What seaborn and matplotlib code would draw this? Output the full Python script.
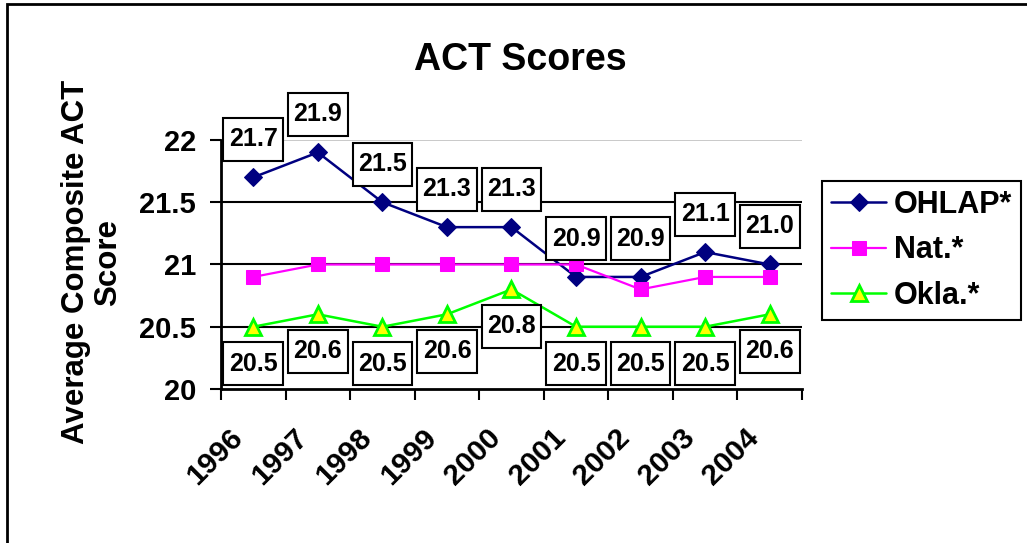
import numpy as np
import pandas as pd
import matplotlib
matplotlib.use("Agg")
import matplotlib.pyplot as plt
import matplotlib.patches as patches
import matplotlib.transforms as mtrans
from matplotlib.path import Path
import seaborn as sns

# chart data
years = ["1996", "1997", "1998", "1999", "2000", "2001", "2002", "2003", "2004"]
ohlap = [21.7, 21.9, 21.5, 21.3, 21.3, 20.9, 20.9, 21.1, 21.0]
nat = [20.9, 21.0, 21.0, 21.0, 21.0, 21.0, 20.8, 20.9, 20.9]
okla = [20.5, 20.6, 20.5, 20.6, 20.8, 20.5, 20.5, 20.5, 20.6]
y_ticks = [20, 20.5, 21, 21.5, 22]


class PadBox:
    """Square label box with separate horizontal / vertical padding."""
    def __init__(self, padx, pady):
        self.padx = padx
        self.pady = pady

    def __call__(self, x0, y0, width, height, mutation_size):
        px = self.padx * mutation_size
        py = self.pady * mutation_size
        x0, y0 = x0 - px, y0 - py
        x1, y1 = x0 + width + 2 * px, y0 + height + 2 * py
        return Path([(x0, y0), (x1, y0), (x1, y1), (x0, y1), (x0, y0)], closed=True)


sns.set_style("white")
plt.rcParams['font.family'] = ['Liberation Sans', 'DejaVu Sans']
plt.rcParams['font.weight'] = 'bold'
for key in ['text.color', 'axes.labelcolor', 'xtick.color', 'ytick.color']:
    plt.rcParams[key] = 'black'

fig = plt.figure(figsize=(10.27, 5.43), dpi=100)
ax = fig.add_axes([0.2152, 0.2836, 0.5657, 0.4586])

pos = np.arange(len(years))
df = pd.DataFrame({'pos': pos, 'OHLAP*': ohlap, 'Nat.*': nat, 'Okla.*': okla})

# gridlines behind the data
for yv in y_ticks[1:-1]:
    ax.axhline(yv, color='black', lw=1.5, zorder=1)
ax.axhline(22, color='#C0C0C0', lw=1.2, zorder=1)

sns.lineplot(data=df, x='pos', y='OHLAP*', ax=ax, color='#000080', lw=1.8,
             marker='D', markersize=9, markeredgecolor='#000080', label='OHLAP*', zorder=3)
sns.lineplot(data=df, x='pos', y='Nat.*', ax=ax, color='#FF00FF', lw=1.6,
             marker='s', markersize=10.5, markeredgecolor='#FF00FF', label='Nat.*', zorder=3)
sns.lineplot(data=df, x='pos', y='Okla.*', ax=ax, color='#00FF00', lw=1.8,
             marker='^', markersize=11, markerfacecolor='#FFFF00', markeredgecolor='#00FF00',
             markeredgewidth=2, label='Okla.*', zorder=4)

box = dict(boxstyle=PadBox(0.22, 0.38), fc='white', ec='black', lw=1.5)
for x, v in zip(pos, ohlap):
    ax.annotate(f"{v:.1f}", (x, v), xytext=(0, 38), textcoords='offset pixels',
                ha='center', va='center', fontsize=18, fontweight='bold',
                bbox=box, zorder=5, annotation_clip=False)
for x, v in zip(pos, okla):
    ax.annotate(f"{v:.1f}", (x, v), xytext=(0, -37), textcoords='offset pixels',
                ha='center', va='center', fontsize=18, fontweight='bold',
                bbox=box, zorder=5, annotation_clip=False)

ax.set_xlim(-0.5, len(years) - 0.5)
ax.set_ylim(20, 22)
ax.set_xlabel('')
ax.set_ylabel('')

# ticks on category boundaries, labels at centres
ax.set_xticks(np.arange(len(years) + 1) - 0.5)
ax.set_xticklabels([])
ax.set_xticks(pos, minor=True)
ax.set_xticklabels(years, minor=True, rotation=45, ha='right', va='center',
                   rotation_mode='anchor', fontsize=21.5, fontweight='bold')
ax.tick_params(axis='x', which='major', direction='out', length=8, width=1.5, color='black', bottom=True)
ax.tick_params(axis='x', which='minor', length=0, pad=32)
shift = mtrans.ScaledTranslation(-15 / 100, 0, fig.dpi_scale_trans)
for lbl in ax.get_xticklabels(minor=True):
    lbl.set_transform(lbl.get_transform() + shift)

ax.set_yticks(y_ticks)
ax.set_yticklabels(['20', '20.5', '21', '21.5', '22'], fontsize=21, fontweight='bold')
ax.tick_params(axis='y', direction='out', length=8, width=1.5, color='black', left=True, pad=10)

for side in ['right', 'top']:
    ax.spines[side].set_visible(False)
for side in ['left', 'bottom']:
    ax.spines[side].set_color('black')
    ax.spines[side].set_linewidth(2)

leg = ax.legend(loc='upper left', bbox_to_anchor=(822 / 1027, 1 - 181 / 543),
                bbox_transform=fig.transFigure, fontsize=22, frameon=True,
                fancybox=False, framealpha=1, edgecolor='black',
                handlelength=1.8, handletextpad=0.25, labelspacing=0.5,
                borderpad=0.3, borderaxespad=0)
leg.get_frame().set_linewidth(1.5)
for t in leg.get_texts():
    t.set_fontweight('bold')

fig.text(0.507, 0.89, 'ACT Scores', ha='center', va='center', fontsize=27, fontweight='bold')
fig.text(0.09, 0.517, 'Average Composite ACT\nScore', rotation=90, ha='center', va='center',
         multialignment='center', fontsize=22.5, fontweight='bold', linespacing=1.1)

# outer chart border (cropped on the right and bottom)
fig.patches.append(patches.Rectangle((7 / 1027, -0.1), 1.2, 1 - 4 / 543 + 0.1,
                                     transform=fig.transFigure, fill=False,
                                     ec='black', lw=2))

fig.savefig('out.png', dpi=100)
